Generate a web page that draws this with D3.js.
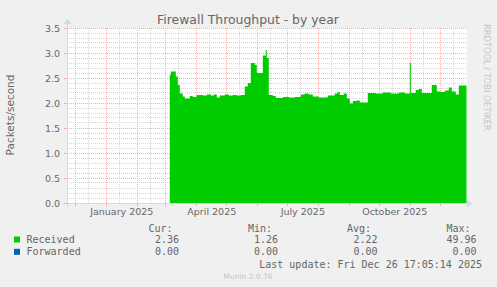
<!DOCTYPE html>
<html><head><meta charset="utf-8">
<script src="https://cdn.jsdelivr.net/npm/d3@7"></script>
<style>
html,body{margin:0;padding:0;background:#F0F0F0;}
svg{display:block;}
</style></head><body>
<svg id="c" width="497" height="287"></svg>
<script>
// ---- data ----
const dates = ["2025-03-05","2025-03-06","2025-03-11","2025-03-13","2025-03-15","2025-03-18","2025-03-20","2025-03-25","2025-03-28",
"2025-04-01","2025-04-07","2025-04-11","2025-04-15","2025-04-18","2025-04-21","2025-04-24","2025-04-29",
"2025-05-03","2025-05-07","2025-05-11","2025-05-15","2025-05-19","2025-05-22","2025-05-25","2025-05-29","2025-05-31",
"2025-06-06","2025-06-09","2025-06-10","2025-06-12","2025-06-16","2025-06-19","2025-06-26",
"2025-07-02","2025-07-08","2025-07-14","2025-07-18","2025-07-22","2025-07-26",
"2025-08-01","2025-08-10","2025-08-17","2025-08-20","2025-08-22","2025-08-26","2025-08-29",
"2025-09-01","2025-09-04","2025-09-08","2025-09-11","2025-09-19","2025-09-27",
"2025-10-04","2025-10-12","2025-10-20","2025-10-26","2025-10-31",
"2025-11-01","2025-11-06","2025-11-09","2025-11-12","2025-11-22","2025-11-27",
"2025-12-01","2025-12-05","2025-12-09","2025-12-12","2025-12-16","2025-12-19","2025-12-26T17:05:14"];
const received = [2.56,2.63,2.53,2.36,2.19,2.13,2.09,2.14,2.12,
2.16,2.15,2.17,2.15,2.17,2.11,2.15,2.17,
2.15,2.16,2.15,2.16,2.33,2.40,2.80,2.76,2.60,
2.95,3.06,2.90,2.16,2.14,2.10,2.12,
2.11,2.12,2.17,2.19,2.17,2.13,
2.11,2.15,2.19,2.22,2.16,2.19,2.09,
1.99,2.04,2.05,2.01,2.20,2.19,
2.21,2.19,2.21,2.19,2.80,
2.20,2.26,2.28,2.20,2.36,2.23,
2.22,2.25,2.31,2.23,2.17,2.35,2.36];
const forwarded = [0,0,0,0,0,0,0,0,0, 0,0,0,0,0,0,0,0, 0,0,0,0,0,0,0,0,0, 0,0,0,0,0,0,0, 0,0,0,0,0,0,
0,0,0,0,0,0,0, 0,0,0,0,0,0, 0,0,0,0,0, 0,0,0,0,0,0, 0,0,0,0,0,0,0];
const seriesNames = ["Received","Forwarded"];
const seriesColors = ["#00CC00","#0066B3"];
const statHeads = ["Cur:","Min:","Avg:","Max:"];
const statValues = [["2.36","1.26","2.22","49.96"],["0.00","0.00","0.00","0.00"]];
const yTicks = [0,0.5,1,1.5,2,2.5,3,3.5];
const xLabelMonths = ["2025-01","2025-04","2025-07","2025-10"];
const timeStart = "2024-11-21T17:05:14", timeEnd = "2025-12-26T17:05:14";
const title = "Firewall Throughput - by year";
const yTitle = "Packets/second";
const lastUpdate = "Last update: Fri Dec 26 17:05:14 2025";

// ---- drawing ----
const svg = d3.select("#c");
const parse = s => new Date(s.length > 10 ? s + "Z" : s + "T00:00:00Z");
const x = d3.scaleUtc().domain([parse(timeStart), parse(timeEnd)]).range([66.5, 466.5]);
const y = d3.scaleLinear().domain([0, 3.5]).range([203, 28]);
const crisp = v => Math.floor(v) + 0.5;
const minorCol = "#d6d6d6", majorCol = "#efb0b0";

svg.append("rect").attr("x",67).attr("y",28).attr("width",400).attr("height",175).attr("fill","#FFFFFF");

const grid = svg.append("g");
d3.range(1, 36).filter(i => i % 5 !== 0).forEach(i => {
  const yy = crisp(y(i / 10));
  grid.append("line").attr("x1",67).attr("x2",467).attr("y1",yy).attr("y2",yy)
    .attr("stroke",minorCol).attr("stroke-dasharray","1,1");
});
d3.utcMonths(new Date(Date.UTC(2024,10,1)), new Date(Date.UTC(2026,0,1))).forEach(m => {
  const d = new Date(Date.UTC(m.getUTCFullYear(), m.getUTCMonth(), 14));
  const xx = x(d);
  if (xx < 67 || xx > 467) return;
  grid.append("line").attr("x1",crisp(xx)).attr("x2",crisp(xx)).attr("y1",28).attr("y2",203)
    .attr("stroke",minorCol).attr("stroke-dasharray","1,1");
});
yTicks.filter(t => t > 0).forEach(t => {
  const yy = crisp(y(t));
  grid.append("line").attr("x1",67).attr("x2",467).attr("y1",yy).attr("y2",yy)
    .attr("stroke",majorCol).attr("stroke-dasharray","1,1");
});
x.ticks(d3.utcMonth.every(1)).forEach(m => {
  const xx = x(m);
  if (xx < 67 || xx > 467) return;
  grid.append("line").attr("x1",crisp(xx)).attr("x2",crisp(xx)).attr("y1",28).attr("y2",203)
    .attr("stroke",majorCol).attr("stroke-dasharray","1,1");
});

// area
const pts = dates.map((d, i) => ({t: parse(d), v: received[i], f: forwarded[i]}));
const area = d3.area().curve(d3.curveStepAfter).x(d => x(d.t)).y0(y(0) + 0.5).y1(d => y(d.v));
svg.append("path").datum(pts).attr("d", area).attr("fill", seriesColors[0]);
const area2 = d3.area().curve(d3.curveStepAfter).x(d => x(d.t)).y0(d => y(d.v)).y1(d => y(d.v + d.f));
svg.append("path").datum(pts).attr("d", area2).attr("fill", seriesColors[1]);

// axes
const axisCol = "#CFD6F8";
svg.append("line").attr("x1",63).attr("x2",468).attr("y1",203.5).attr("y2",203.5).attr("stroke",axisCol);
svg.append("line").attr("x1",67.5).attr("x2",67.5).attr("y1",207).attr("y2",24).attr("stroke",axisCol);
svg.append("path").attr("d","M467,199.5 L472,203.5 L467,207.5 Z").attr("fill",axisCol);
svg.append("path").attr("d","M63.5,24 L67.5,19 L71.5,24 Z").attr("fill",axisCol);
x.ticks(d3.utcMonth.every(1)).forEach(m => {
  const xx = x(m);
  if (xx < 67 || xx > 467) return;
  svg.append("line").attr("x1",crisp(xx)).attr("x2",crisp(xx)).attr("y1",203).attr("y2",206).attr("stroke",majorCol);
});
yTicks.forEach(t => {
  svg.append("line").attr("x1",64).attr("x2",67).attr("y1",crisp(y(t))).attr("y2",crisp(y(t))).attr("stroke",majorCol);
});

const font = "DejaVu Sans";
const txtCol = "#666666";
yTicks.forEach(t => {
  svg.append("text").attr("x",60).attr("y",y(t) + 3.5).attr("text-anchor","end")
    .attr("font-family",font).attr("font-size",9.5).attr("fill",txtCol).text(d3.format(".1f")(t));
});
const fmt = d3.utcFormat("%B %Y");
xLabelMonths.forEach(s => {
  const d = parse(s + "-16");
  svg.append("text").attr("x",x(d)).attr("y",215).attr("text-anchor","middle")
    .attr("font-family",font).attr("font-size",9.5).attr("fill",txtCol).text(fmt(d));
});
svg.append("text").attr("x",248).attr("y",24).attr("text-anchor","middle")
  .attr("font-family",font).attr("font-size",12.4).attr("fill",txtCol).text(title);
svg.append("text").attr("transform","translate(14,115) rotate(-90)").attr("text-anchor","middle")
  .attr("font-family",font).attr("font-size",10.5).attr("fill",txtCol).text(yTitle);
svg.append("text").attr("transform","translate(484,24) rotate(90)").attr("text-anchor","start")
  .attr("font-family",font).attr("font-size",8.3).attr("fill","#c6c6c6").text("RRDTOOL / TOBI OETIKER");

// legend
const mono = "DejaVu Sans Mono";
const colX = [172.5, 272, 371, 470.5];
const valX = [179, 278, 377.5, 476.5];
statHeads.forEach((h, i) => {
  svg.append("text").attr("x",colX[i]).attr("y",232).attr("text-anchor","end")
    .attr("font-family",mono).attr("font-size",10).attr("fill",txtCol).text(h);
});
seriesNames.forEach((n, r) => {
  const yy = 243 + r * 12.3;
  svg.append("rect").attr("x",14).attr("y",yy - 6.5).attr("width",6).attr("height",6).attr("fill",seriesColors[r]);
  svg.append("text").attr("x",26.5).attr("y",yy).attr("font-family",mono).attr("font-size",10)
    .attr("fill",txtCol).text(n);
  statValues[r].forEach((v, i) => {
    svg.append("text").attr("x",valX[i]).attr("y",yy).attr("text-anchor","end")
      .attr("font-family",mono).attr("font-size",10).attr("fill",txtCol).text(v);
  });
});
svg.append("text").attr("x",482).attr("y",267.5).attr("text-anchor","end")
  .attr("font-family",mono).attr("font-size",10).attr("fill",txtCol).text(lastUpdate);
svg.append("text").attr("x",248).attr("y",279).attr("text-anchor","middle")
  .attr("font-family",font).attr("font-size",7.5).attr("fill","#c4c4c4").text("Munin 2.0.76");
</script>
</body></html>
